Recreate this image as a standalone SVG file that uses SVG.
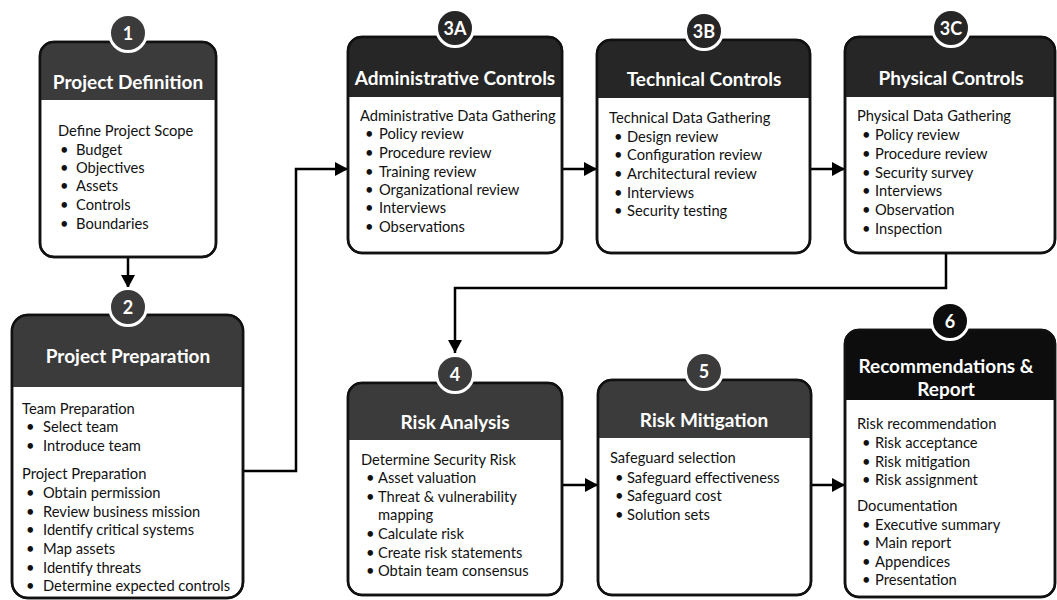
<svg xmlns="http://www.w3.org/2000/svg" width="1057" height="600" viewBox="0 0 1057 600">
  <style>
    .box { fill: #ffffff; stroke: #111111; stroke-width: 2.5; }
    .frame { fill: none; stroke: #111111; stroke-width: 2.5; }
    .hd-a { fill: #3b3b3b; }
    .hd-b { fill: #262626; }
    .hd-c { fill: #0d0d0d; }
    .badge-a { fill: #3b3b3b; stroke: #ffffff; stroke-width: 3; }
    .badge-b { fill: #262626; stroke: #ffffff; stroke-width: 3; }
    .badge-c { fill: #0d0d0d; stroke: #ffffff; stroke-width: 3; }
    .num { font-family: Lato, "Liberation Sans", sans-serif; font-weight: bold; font-size: 18px; fill: #ffffff; text-anchor: middle; dominant-baseline: central; }
    .title { font-family: Lato, "Liberation Sans", sans-serif; font-weight: bold; font-size: 19px; fill: #ffffff; text-anchor: middle; dominant-baseline: central; }
    .body { font-family: Lato, "Liberation Sans", sans-serif; font-size: 14.7px; fill: #111111; dominant-baseline: central; }
    .conn { fill: none; stroke: #000000; stroke-width: 2.5; }
  </style>
  <defs>
    <marker id="arrow" markerUnits="userSpaceOnUse" markerWidth="13" markerHeight="14" refX="13" refY="7" orient="auto">
      <path d="M0,0 L13,7 L0,14 Z" fill="#000000"/>
    </marker>
  </defs>

  <!-- connectors -->
  <g id="connectors">
    <path class="conn" d="M128,257 V288" marker-end="url(#arrow)"/>
    <path class="conn" d="M243,471 H296 V169 H348" marker-end="url(#arrow)"/>
    <path class="conn" d="M562,169 H597" marker-end="url(#arrow)"/>
    <path class="conn" d="M810,169 H845" marker-end="url(#arrow)"/>
    <path class="conn" d="M946,253 V288 H455 V353" marker-end="url(#arrow)"/>
    <path class="conn" d="M562,485 H598" marker-end="url(#arrow)"/>
    <path class="conn" d="M811,485 H845" marker-end="url(#arrow)"/>
  </g>

  <!-- 1: Project Definition -->
  <g id="node-1">
    <rect class="box" x="40" y="42" width="176" height="215" rx="14"/>
    <path class="hd-a" d="M40,100 V56 A14,14 0 0 1 54,42 H202 A14,14 0 0 1 216,56 V100 Z"/>
    <rect class="frame" x="40" y="42" width="176" height="215" rx="14"/>
    <circle class="badge-a" cx="128" cy="33" r="18.5"/>
    <text class="num" x="128" y="33">1</text>
    <text class="title" x="128" y="81">Project Definition</text>
    <text class="body" x="58" y="130">Define Project Scope</text>
    <g class="body">
      <text x="60" y="149">•</text><text x="76" y="149">Budget</text>
      <text x="60" y="167">•</text><text x="76" y="167">Objectives</text>
      <text x="60" y="185">•</text><text x="76" y="185">Assets</text>
      <text x="60" y="204">•</text><text x="76" y="204">Controls</text>
      <text x="60" y="223">•</text><text x="76" y="223">Boundaries</text>
    </g>
  </g>

  <!-- 2: Project Preparation -->
  <g id="node-2">
    <rect class="box" x="12" y="315" width="231" height="283" rx="16"/>
    <path class="hd-a" d="M12,387 V331 A16,16 0 0 1 28,315 H227 A16,16 0 0 1 243,331 V387 Z"/>
    <rect class="frame" x="12" y="315" width="231" height="283" rx="16"/>
    <circle class="badge-a" cx="128" cy="307" r="18.5"/>
    <text class="num" x="128" y="307">2</text>
    <text class="title" x="128" y="355">Project Preparation</text>
    <g class="body">
      <text x="22" y="408">Team Preparation</text>
      <text x="26" y="426">•</text><text x="43" y="426">Select team</text>
      <text x="26" y="445">•</text><text x="43" y="445">Introduce team</text>
      <text x="22" y="473">Project Preparation</text>
      <text x="26" y="492">•</text><text x="43" y="492">Obtain permission</text>
      <text x="26" y="511">•</text><text x="43" y="511">Review business mission</text>
      <text x="26" y="529">•</text><text x="43" y="529">Identify critical systems</text>
      <text x="26" y="548">•</text><text x="43" y="548">Map assets</text>
      <text x="26" y="567">•</text><text x="43" y="567">Identify threats</text>
      <text x="26" y="585">•</text><text x="43" y="585">Determine expected controls</text>
    </g>
  </g>

  <!-- 3A: Administrative Controls -->
  <g id="node-3a">
    <rect class="box" x="348" y="37" width="214" height="216" rx="14"/>
    <path class="hd-b" d="M348,97 V51 A14,14 0 0 1 362,37 H548 A14,14 0 0 1 562,51 V97 Z"/>
    <rect class="frame" x="348" y="37" width="214" height="216" rx="14"/>
    <circle class="badge-b" cx="455" cy="28" r="18.5"/>
    <text class="num" x="455" y="28">3A</text>
    <text class="title" x="455" y="77">Administrative Controls</text>
    <g class="body">
      <text x="360" y="115">Administrative Data Gathering</text>
      <text x="365" y="133">•</text><text x="379" y="133">Policy review</text>
      <text x="365" y="152">•</text><text x="379" y="152">Procedure review</text>
      <text x="365" y="171">•</text><text x="379" y="171">Training review</text>
      <text x="365" y="189">•</text><text x="379" y="189">Organizational review</text>
      <text x="365" y="207">•</text><text x="379" y="207">Interviews</text>
      <text x="365" y="226">•</text><text x="379" y="226">Observations</text>
    </g>
  </g>

  <!-- 3B: Technical Controls -->
  <g id="node-3b">
    <rect class="box" x="597" y="40" width="213" height="213" rx="14"/>
    <path class="hd-b" d="M597,98 V54 A14,14 0 0 1 611,40 H796 A14,14 0 0 1 810,54 V98 Z"/>
    <rect class="frame" x="597" y="40" width="213" height="213" rx="14"/>
    <circle class="badge-b" cx="704" cy="31" r="18.5"/>
    <text class="num" x="704" y="31">3B</text>
    <text class="title" x="704" y="78">Technical Controls</text>
    <g class="body">
      <text x="609" y="117">Technical Data Gathering</text>
      <text x="614" y="136">•</text><text x="627" y="136">Design review</text>
      <text x="614" y="154">•</text><text x="627" y="154">Configuration review</text>
      <text x="614" y="173">•</text><text x="627" y="173">Architectural review</text>
      <text x="614" y="192">•</text><text x="627" y="192">Interviews</text>
      <text x="614" y="210">•</text><text x="627" y="210">Security testing</text>
    </g>
  </g>

  <!-- 3C: Physical Controls -->
  <g id="node-3c">
    <rect class="box" x="845" y="37" width="210" height="216" rx="14"/>
    <path class="hd-b" d="M845,97 V51 A14,14 0 0 1 859,37 H1041 A14,14 0 0 1 1055,51 V97 Z"/>
    <rect class="frame" x="845" y="37" width="210" height="216" rx="14"/>
    <circle class="badge-b" cx="951" cy="28" r="18.5"/>
    <text class="num" x="951" y="28">3C</text>
    <text class="title" x="951" y="77">Physical Controls</text>
    <g class="body">
      <text x="857" y="115">Physical Data Gathering</text>
      <text x="862" y="134">•</text><text x="875" y="134">Policy review</text>
      <text x="862" y="153">•</text><text x="875" y="153">Procedure review</text>
      <text x="862" y="172">•</text><text x="875" y="172">Security survey</text>
      <text x="862" y="190">•</text><text x="875" y="190">Interviews</text>
      <text x="862" y="209">•</text><text x="875" y="209">Observation</text>
      <text x="862" y="228">•</text><text x="875" y="228">Inspection</text>
    </g>
  </g>

  <!-- 4: Risk Analysis -->
  <g id="node-4">
    <rect class="box" x="348" y="383" width="214" height="212" rx="14"/>
    <path class="hd-a" d="M348,440 V397 A14,14 0 0 1 362,383 H548 A14,14 0 0 1 562,397 V440 Z"/>
    <rect class="frame" x="348" y="383" width="214" height="212" rx="14"/>
    <circle class="badge-a" cx="455" cy="374" r="18.5"/>
    <text class="num" x="455" y="374">4</text>
    <text class="title" x="455" y="421">Risk Analysis</text>
    <g class="body">
      <text x="361" y="459">Determine Security Risk</text>
      <text x="366" y="477">•</text><text x="378" y="477">Asset valuation</text>
      <text x="366" y="496">•</text><text x="378" y="496">Threat &amp; vulnerability</text>
      <text x="378" y="514">mapping</text>
      <text x="366" y="533">•</text><text x="378" y="533">Calculate risk</text>
      <text x="366" y="552">•</text><text x="378" y="552">Create risk statements</text>
      <text x="366" y="570">•</text><text x="378" y="570">Obtain team consensus</text>
    </g>
  </g>

  <!-- 5: Risk Mitigation -->
  <g id="node-5">
    <rect class="box" x="598" y="380" width="213" height="215" rx="14"/>
    <path class="hd-a" d="M598,438 V394 A14,14 0 0 1 612,380 H797 A14,14 0 0 1 811,394 V438 Z"/>
    <rect class="frame" x="598" y="380" width="213" height="215" rx="14"/>
    <circle class="badge-a" cx="704" cy="371" r="18.5"/>
    <text class="num" x="704" y="371">5</text>
    <text class="title" x="704" y="419">Risk Mitigation</text>
    <g class="body">
      <text x="610" y="457">Safeguard selection</text>
      <text x="615" y="477">•</text><text x="627" y="477">Safeguard effectiveness</text>
      <text x="615" y="495">•</text><text x="627" y="495">Safeguard cost</text>
      <text x="615" y="514">•</text><text x="627" y="514">Solution sets</text>
    </g>
  </g>

  <!-- 6: Recommendations & Report -->
  <g id="node-6">
    <rect class="box" x="845" y="330" width="210" height="267" rx="14"/>
    <path class="hd-c" d="M845,400 V344 A14,14 0 0 1 859,330 H1041 A14,14 0 0 1 1055,344 V400 Z"/>
    <rect class="frame" x="845" y="330" width="210" height="267" rx="14"/>
    <circle class="badge-c" cx="950" cy="321" r="18.5"/>
    <text class="num" x="950" y="321">6</text>
    <text class="title" x="946" y="365">Recommendations &amp;</text>
    <text class="title" x="946" y="388">Report</text>
    <g class="body">
      <text x="857" y="423">Risk recommendation</text>
      <text x="862" y="442">•</text><text x="875" y="442">Risk acceptance</text>
      <text x="862" y="461">•</text><text x="875" y="461">Risk mitigation</text>
      <text x="862" y="479">•</text><text x="875" y="479">Risk assignment</text>
      <text x="857" y="505">Documentation</text>
      <text x="862" y="524">•</text><text x="875" y="524">Executive summary</text>
      <text x="862" y="542">•</text><text x="875" y="542">Main report</text>
      <text x="862" y="561">•</text><text x="875" y="561">Appendices</text>
      <text x="862" y="579">•</text><text x="875" y="579">Presentation</text>
    </g>
  </g>
</svg>
